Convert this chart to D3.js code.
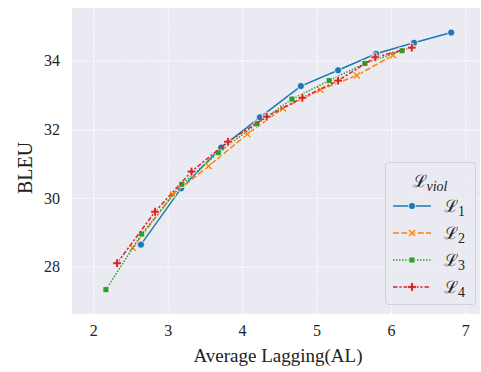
<!DOCTYPE html>
<html><head><meta charset="utf-8">
<script src="https://cdn.jsdelivr.net/npm/d3@7"></script>
<style>body{margin:0;background:#fff}svg{display:block}</style>
</head><body>
<svg id="c" width="481" height="372"></svg>
<script>
const xTicks = [2, 3, 4, 5, 6, 7];
const yTicks = [28, 30, 32, 34];
const seriesNames = ["1", "2", "3", "4"];
const alL1 = [2.64, 3.18, 3.72, 4.24, 4.79, 5.29, 5.80, 6.31, 6.81];
const bleuL1 = [28.64, 30.28, 31.47, 32.35, 33.26, 33.72, 34.20, 34.52, 34.82];
const alL2 = [2.53, 3.07, 3.55, 4.07, 4.55, 5.05, 5.54, 6.03];
const bleuL2 = [28.55, 30.10, 30.93, 31.86, 32.61, 33.15, 33.57, 34.16];
const alL3 = [2.17, 2.65, 3.19, 3.68, 4.20, 4.67, 5.17, 5.65, 6.15];
const bleuL3 = [27.33, 28.95, 30.40, 31.32, 32.16, 32.88, 33.42, 33.92, 34.29];
const alL4 = [2.32, 2.83, 3.32, 3.81, 4.33, 4.81, 5.29, 5.79, 6.28];
const bleuL4 = [28.10, 29.60, 30.77, 31.64, 32.37, 32.92, 33.42, 34.10, 34.38];

const colors = ["#1f77b4", "#ff7f0e", "#2ca02c", "#d62728"];
const dashes = [null, "6,2.25", "1.5,1.5", "4.5,1.875,2.25,1.875"];
const markers = ["circle", "X", "square", "P"];
const series = [[alL1, bleuL1], [alL2, bleuL2], [alL3, bleuL3], [alL4, bleuL4]]
  .map((s, i) => ({name: seriesNames[i], pts: s[0].map((x, j) => [x, s[1][j]])}));

const L = 72, T = 8, R = 480, B = 314;
const x = d3.scaleLinear().domain([1.714, 7.197]).range([L, R]);
const y = d3.scaleLinear().domain([26.62, 35.535]).range([B, T]);
const svg = d3.select("#c");
const font = "'Liberation Serif', 'DejaVu Serif', serif";
const sym = "'DejaVu Serif', serif";

svg.append("rect").attr("x", L).attr("y", T).attr("width", R - L).attr("height", B - T).attr("fill", "#eaeaf2");

const xa = svg.append("g").attr("transform", `translate(0,${B})`)
  .call(d3.axisBottom(x).tickValues(xTicks).tickSize(-(B - T)).tickPadding(11).tickFormat(d3.format("d")));
const ya = svg.append("g").attr("transform", `translate(${L},0)`)
  .call(d3.axisLeft(y).tickValues(yTicks).tickSize(-(R - L)).tickPadding(12).tickFormat(d3.format("d")));
[xa, ya].forEach(a => {
  a.select(".domain").remove();
  a.selectAll(".tick line").attr("stroke", "#fff").attr("stroke-width", 1).attr("stroke-dasharray", "2,1.5");
  a.selectAll(".tick text").attr("font-family", font).attr("font-size", 16).attr("fill", "#222");
});

function markerPath(type, s) {
  if (type === "X") {
    const a = s * 0.5, b = s * 0.18;
    const p = [[b,0],[a,a-b],[a-b,a],[0,b],[-a+b,a],[-a,a-b],[-b,0],[-a,-a+b],[-a+b,-a],[0,-b],[a-b,-a],[a,-a+b]];
    return "M" + p.map(q => q.join(",")).join("L") + "Z";
  }
  if (type === "P") {
    const a = s * 0.55, b = s * 0.18;
    const p = [[b,b],[b,a],[-b,a],[-b,b],[-a,b],[-a,-b],[-b,-b],[-b,-a],[b,-a],[b,-b],[a,-b],[a,b]];
    return "M" + p.map(q => q.join(",")).join("L") + "Z";
  }
  if (type === "square") { const a = s * 0.38; return `M${-a},${-a}H${a}V${a}H${-a}Z`; }
  const r = s * 0.45; return `M${r},0A${r},${r} 0 1,1 ${-r},0A${r},${r} 0 1,1 ${r},0Z`;
}

const line = d3.line().x(d => x(d[0])).y(d => y(d[1]));
series.forEach((s, i) => {
  const g = svg.append("g");
  g.append("path").attr("d", line(s.pts)).attr("fill", "none").attr("stroke", colors[i])
    .attr("stroke-width", 1.5).attr("stroke-dasharray", dashes[i]);
  g.selectAll("path.m").data(s.pts).join("path").attr("class", "m")
    .attr("transform", d => `translate(${x(d[0])},${y(d[1])})`)
    .attr("d", markerPath(markers[i], 8)).attr("fill", colors[i]).attr("stroke", "#fff").attr("stroke-width", 0.75);
});

svg.append("text").attr("x", (L + R) / 2 + 2).attr("y", 362).attr("text-anchor", "middle")
  .attr("font-family", font).attr("font-size", 19).attr("fill", "#222").text("Average Lagging(AL)");
svg.append("text").attr("transform", `translate(32,${(T + B) / 2 + 7}) rotate(-90)`).attr("text-anchor", "middle")
  .attr("font-family", font).attr("font-size", 20).attr("fill", "#222").text("BLEU");

// legend
const lg = svg.append("g");
lg.append("rect").attr("x", 385.5).attr("y", 162.5).attr("width", 90).attr("height", 142).attr("rx", 3)
  .attr("fill", "#eaeaf2").attr("fill-opacity", 0.8).attr("stroke", "#d0d0d8").attr("stroke-width", 1);
const tt = lg.append("text").attr("x", 430).attr("y", 187).attr("text-anchor", "middle")
  .attr("font-family", sym).attr("font-size", 17).attr("fill", "#222");
tt.append("tspan").text("\u2112");
tt.append("tspan").attr("font-family", font).attr("font-size", 14).attr("font-style", "italic").attr("dy", 4).text("viol");
const ly = [206, 233, 260, 287];
series.forEach((s, i) => {
  lg.append("line").attr("x1", 393).attr("x2", 431).attr("y1", ly[i]).attr("y2", ly[i])
    .attr("stroke", colors[i]).attr("stroke-width", 1.5).attr("stroke-dasharray", dashes[i]);
  lg.append("path").attr("transform", `translate(412,${ly[i]})`).attr("d", markerPath(markers[i], 8))
    .attr("fill", colors[i]).attr("stroke", "#fff").attr("stroke-width", 0.75);
  const t = lg.append("text").attr("x", 444).attr("y", ly[i] + 6).attr("font-family", sym)
    .attr("font-size", 17).attr("fill", "#222");
  t.append("tspan").text("\u2112");
  t.append("tspan").attr("font-family", font).attr("font-size", 14).attr("dy", 4).text(s.name);
});
</script>
</body></html>
